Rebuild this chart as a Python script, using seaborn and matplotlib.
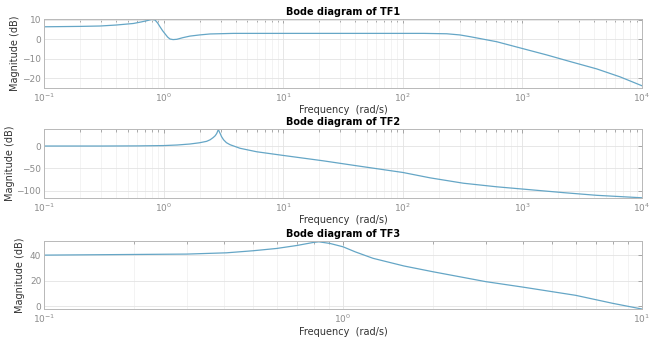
import numpy as np
import pandas as pd
import matplotlib
matplotlib.use("Agg")
import matplotlib.pyplot as plt
import seaborn as sns
from matplotlib.ticker import LogLocator, NullFormatter

# ---- data ----
tf1_freq = [0.1, 0.2, 0.294, 0.4, 0.558, 0.65, 0.72, 0.795, 0.847, 0.89, 0.933,
            0.98, 1.03, 1.08, 1.13, 1.2, 1.29, 1.45, 1.66, 2.0, 2.44, 3.83, 10, 30,
            100, 150, 233, 300, 365, 610, 986, 1596, 2500, 4180, 6550, 10000]
tf1_mag = [6.4, 6.6, 6.8, 7.3, 8.1, 8.9, 9.5, 10.2, 9.9, 8.4, 6.4,
           4.4, 2.7, 1.1, 0.1, -0.2, -0.05, 0.8, 1.6, 2.2, 2.7, 3.0, 3.0, 3.0,
           3.0, 3.0, 2.8, 2.2, 1.3, -1.3, -4.7, -8.1, -11.5, -15.3, -19.4, -24.0]

tf2_freq = [0.1, 0.3, 0.6, 1.0, 1.3, 1.66, 2.0, 2.29, 2.45, 2.6, 2.7, 2.78, 2.87,
            2.93, 2.97, 3.05, 3.17, 3.35, 3.59, 4.35, 6.0, 10, 21.6, 41, 100, 169,
            321, 610, 1000, 2200, 4180, 10000]
tf2_mag = [0.0, 0.0, 0.3, 1.0, 2.3, 4.5, 7.3, 10.5, 14.0, 19.0, 23.0, 28.0, 37.0,
           31.0, 28.0, 21.0, 14.0, 7.5, 3.0, -5.0, -12.8, -21.0, -33.0, -44.0,
           -59.0, -71.0, -83.0, -91.0, -96.0, -104.0, -110.0, -115.5]

tf3_freq = [0.1, 0.199, 0.3, 0.408, 0.5, 0.6, 0.7, 0.796, 0.83, 0.905, 1.0, 1.1,
            1.26, 1.6, 2.0, 3.0, 4.0, 6.0, 8.0, 10.0]
tf3_mag = [40.0, 40.5, 40.8, 41.8, 43.4, 45.2, 47.5, 49.9, 50.4, 49.1, 46.5,
           42.5, 37.5, 31.5, 27.0, 19.3, 15.0, 8.6, 2.3, -2.1]

titles = ["Bode diagram of TF1", "Bode diagram of TF2", "Bode diagram of TF3"]
xlabel = "Frequency  (rad/s)"
ylabel = "Magnitude (dB)"
yticks = [[-20, -10, 0, 10], [-100, -50, 0], [0, 20, 40]]
ylims = [(-25, 10.4), (-116, 38), (-2.3, 50.8)]
xlims = [(0.1, 1e4), (0.1, 1e4), (0.1, 10)]

sns.set_theme(style="white")
plt.rcParams["font.family"] = ["DejaVu Sans"]

line_color = "#65a6c6"
tick_color = "#8c8c8c"
spine_color = "#b8b8b8"

fig = plt.figure(figsize=(6.62, 3.44), dpi=100)
positions = [
    [0.0665, 0.745, 0.9033, 0.1997],
    [0.0665, 0.4244, 0.9033, 0.2006],
    [0.0665, 0.1009, 0.9033, 0.1977],
]
ylabel_x = [-0.040, -0.0485, -0.032]

data = [(tf1_freq, tf1_mag), (tf2_freq, tf2_mag), (tf3_freq, tf3_mag)]

for i, (pos, (f, m)) in enumerate(zip(positions, data)):
    ax = fig.add_axes(pos)
    df = pd.DataFrame({"freq": f, "mag": m})
    sns.lineplot(data=df, x="freq", y="mag", ax=ax, color=line_color, linewidth=0.9)
    ax.set_xscale("log")
    ax.set_xlim(*xlims[i])
    ax.set_ylim(*ylims[i])
    ax.set_yticks(yticks[i])
    ax.xaxis.set_major_locator(LogLocator(base=10, numticks=20))
    ax.xaxis.set_minor_locator(LogLocator(base=10, subs=np.arange(2, 10), numticks=20))
    ax.xaxis.set_minor_formatter(NullFormatter())
    ax.grid(True, which="major", color="#e3e3e3", linewidth=0.6)
    ax.grid(True, which="minor", axis="x", color="#efefef", linewidth=0.5)
    ax.set_axisbelow(True)
    for s in ax.spines.values():
        s.set_color(spine_color)
        s.set_linewidth(0.7)
    ax.tick_params(which="both", direction="in", top=True, right=True,
                   colors=tick_color, labelsize=6.5, width=0.5)
    ax.tick_params(which="major", length=3)
    ax.tick_params(which="minor", length=1.8)
    ax.tick_params(axis="x", pad=2.5)
    ax.tick_params(axis="y", pad=2)
    ax.set_title(titles[i], fontsize=7, fontweight="bold", color="black", pad=3)
    ax.set_xlabel(xlabel, fontsize=7, color="#333333", labelpad=1)
    ax.set_ylabel(ylabel, fontsize=7, color="#333333")
    ax.yaxis.set_label_coords(ylabel_x[i], 0.5)

fig.savefig("out.png", dpi=100, facecolor="white")
